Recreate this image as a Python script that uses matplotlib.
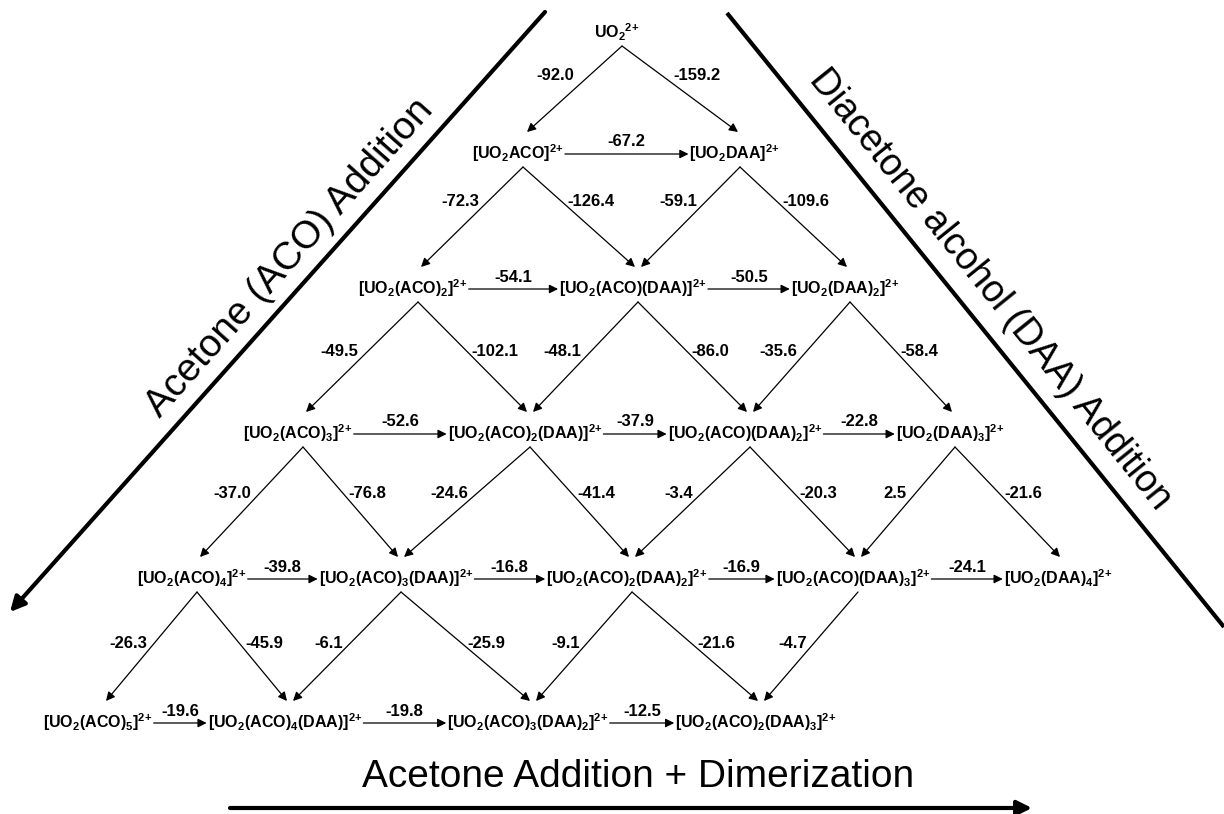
import matplotlib
matplotlib.use('Agg')
import matplotlib.pyplot as plt

plt.rcParams['font.family'] = ['Liberation Sans', 'DejaVu Sans']
plt.rcParams['mathtext.fontset'] = 'custom'
plt.rcParams['mathtext.rm'] = 'Liberation Sans:bold'
plt.rcParams['mathtext.it'] = 'Liberation Sans:bold'
plt.rcParams['mathtext.bf'] = 'Liberation Sans:bold'
plt.rcParams['mathtext.default'] = 'rm'

# species in each row (row n = n ligands bound)
species = [
    [r'UO$_2$$^{2\!+}$'],
    [r'[UO$_2$ACO]$^{2\!+}$', r'[UO$_2$DAA]$^{2\!+}$'],
    [r'[UO$_2$(ACO)$_2$]$^{2\!+}$', r'[UO$_2$(ACO)(DAA)]$^{2\!+}$', r'[UO$_2$(DAA)$_2$]$^{2\!+}$'],
    [r'[UO$_2$(ACO)$_3$]$^{2\!+}$', r'[UO$_2$(ACO)$_2$(DAA)]$^{2\!+}$',
     r'[UO$_2$(ACO)(DAA)$_2$]$^{2\!+}$', r'[UO$_2$(DAA)$_3$]$^{2\!+}$'],
    [r'[UO$_2$(ACO)$_4$]$^{2\!+}$', r'[UO$_2$(ACO)$_3$(DAA)]$^{2\!+}$', r'[UO$_2$(ACO)$_2$(DAA)$_2$]$^{2\!+}$',
     r'[UO$_2$(ACO)(DAA)$_3$]$^{2\!+}$', r'[UO$_2$(DAA)$_4$]$^{2\!+}$'],
    [r'[UO$_2$(ACO)$_5$]$^{2\!+}$', r'[UO$_2$(ACO)$_4$(DAA)]$^{2\!+}$',
     r'[UO$_2$(ACO)$_3$(DAA)$_2$]$^{2\!+}$', r'[UO$_2$(ACO)$_2$(DAA)$_3$]$^{2\!+}$'],
]

# energies along a row (left species -> right neighbour)
e_across = [
    [],
    [-67.2],
    [-54.1, -50.5],
    [-52.6, -37.9, -22.8],
    [-39.8, -16.8, -16.9, -24.1],
    [-19.6, -19.8, -12.5],
]

# energies down to the next row: (ACO addition, DAA addition) for each species
e_down = [
    [(-92.0, -159.2)],
    [(-72.3, -126.4), (-59.1, -109.6)],
    [(-49.5, -102.1), (-48.1, -86.0), (-35.6, -58.4)],
    [(-37.0, -76.8), (-24.6, -41.4), (-3.4, -20.3), (2.5, -21.6)],
    [(-26.3, -45.9), (-6.1, -25.9), (-9.1, -21.6), (-4.7, None), (None, None)],
]

# layout (pixels)
row_y = [32, 153, 288, 433, 578, 722]
node_x = [
    [622],
    [523, 740],
    [418, 638, 850],
    [303, 530, 750, 955],
    [197, 401, 632, 858, 1063],
    [103, 290, 533, 761],
]
lab_y = [76, 202, 352, 494, 643]
gap_l = [15, 8, 9, 8, 7]
gap_r = [11, 5, 4, 5, 6]

fig = plt.figure(figsize=(12.24, 8.14), dpi=100)
ax = fig.add_axes([0, 0, 1, 1])
ax.set_xlim(0, 1224)
ax.set_ylim(814, 0)
ax.axis('off')

small = dict(arrowstyle='-|>', lw=0.9, color='k', mutation_scale=13, shrinkA=0, shrinkB=0)

texts = []
for r, names in enumerate(species):
    row = []
    for i, s in enumerate(names):
        t = ax.text(node_x[r][i] - 5, row_y[r], s, ha='center', va='center',
                    fontsize=11.5, fontweight='bold')
        row.append(t)
    texts.append(row)

# diagonal arrows with energies
for r, pairs in enumerate(e_down):
    y0 = row_y[r] + 14
    y1 = row_y[r + 1] - 21
    ly = lab_y[r]
    for i, (ea, ed) in enumerate(pairs):
        x0 = node_x[r][i]
        for k, e in enumerate((ea, ed)):
            if e is None:
                continue
            j = i + k
            x1 = node_x[r + 1][j] + (3 if k == 0 else -3)
            if r == 0:
                x1 = node_x[r + 1][j] + (4 if k == 0 else -2)
            ax.annotate('', xy=(x1, y1), xytext=(x0, y0), arrowprops=small)
            lx = x0 + (x1 - x0) * (ly - y0) / (y1 - y0)
            if k == 0:
                ax.text(lx - gap_l[r], ly, '%.1f' % e, ha='right', va='center',
                        fontsize=12, fontweight='bold')
            else:
                ax.text(lx + gap_r[r], ly, '%.1f' % e, ha='left', va='center',
                        fontsize=12, fontweight='bold')

# horizontal arrows between neighbours
fig.canvas.draw()
inv = ax.transData.inverted()
for r, vals in enumerate(e_across):
    for i, e in enumerate(vals):
        b0 = texts[r][i].get_window_extent()
        b1 = texts[r][i + 1].get_window_extent()
        xa = inv.transform((b0.x1, 0))[0] + 1
        xb = inv.transform((b1.x0, 0))[0] - 1
        y = row_y[r] + 1
        ax.annotate('', xy=(xb, y), xytext=(xa, y), arrowprops=small)
        ax.text((xa + xb) / 2, y - 12, '%.1f' % e, ha='center', va='center',
                fontsize=12, fontweight='bold')

# axis arrows
big = dict(arrowstyle='-|>', lw=3, color='k', mutation_scale=22, shrinkA=0, shrinkB=0)
ax.annotate('', xy=(10, 612), xytext=(545, 12), arrowprops=big)
ax.plot([727, 1224], [13, 627], color='k', lw=3, solid_capstyle='butt')
ax.annotate('', xy=(1032, 808), xytext=(230, 808), arrowprops=big)

ax.text(290, 258, 'Acetone (ACO) Addition', rotation=48.3, rotation_mode='anchor',
        ha='center', va='center', fontsize=28)
ax.text(990, 290, 'Diacetone alcohol (DAA) Addition', rotation=-51.1, rotation_mode='anchor',
        ha='center', va='center', fontsize=27)
ax.text(638, 777, 'Acetone Addition + Dimerization', ha='center', va='center', fontsize=28)

fig.savefig('out.png', dpi=100)
